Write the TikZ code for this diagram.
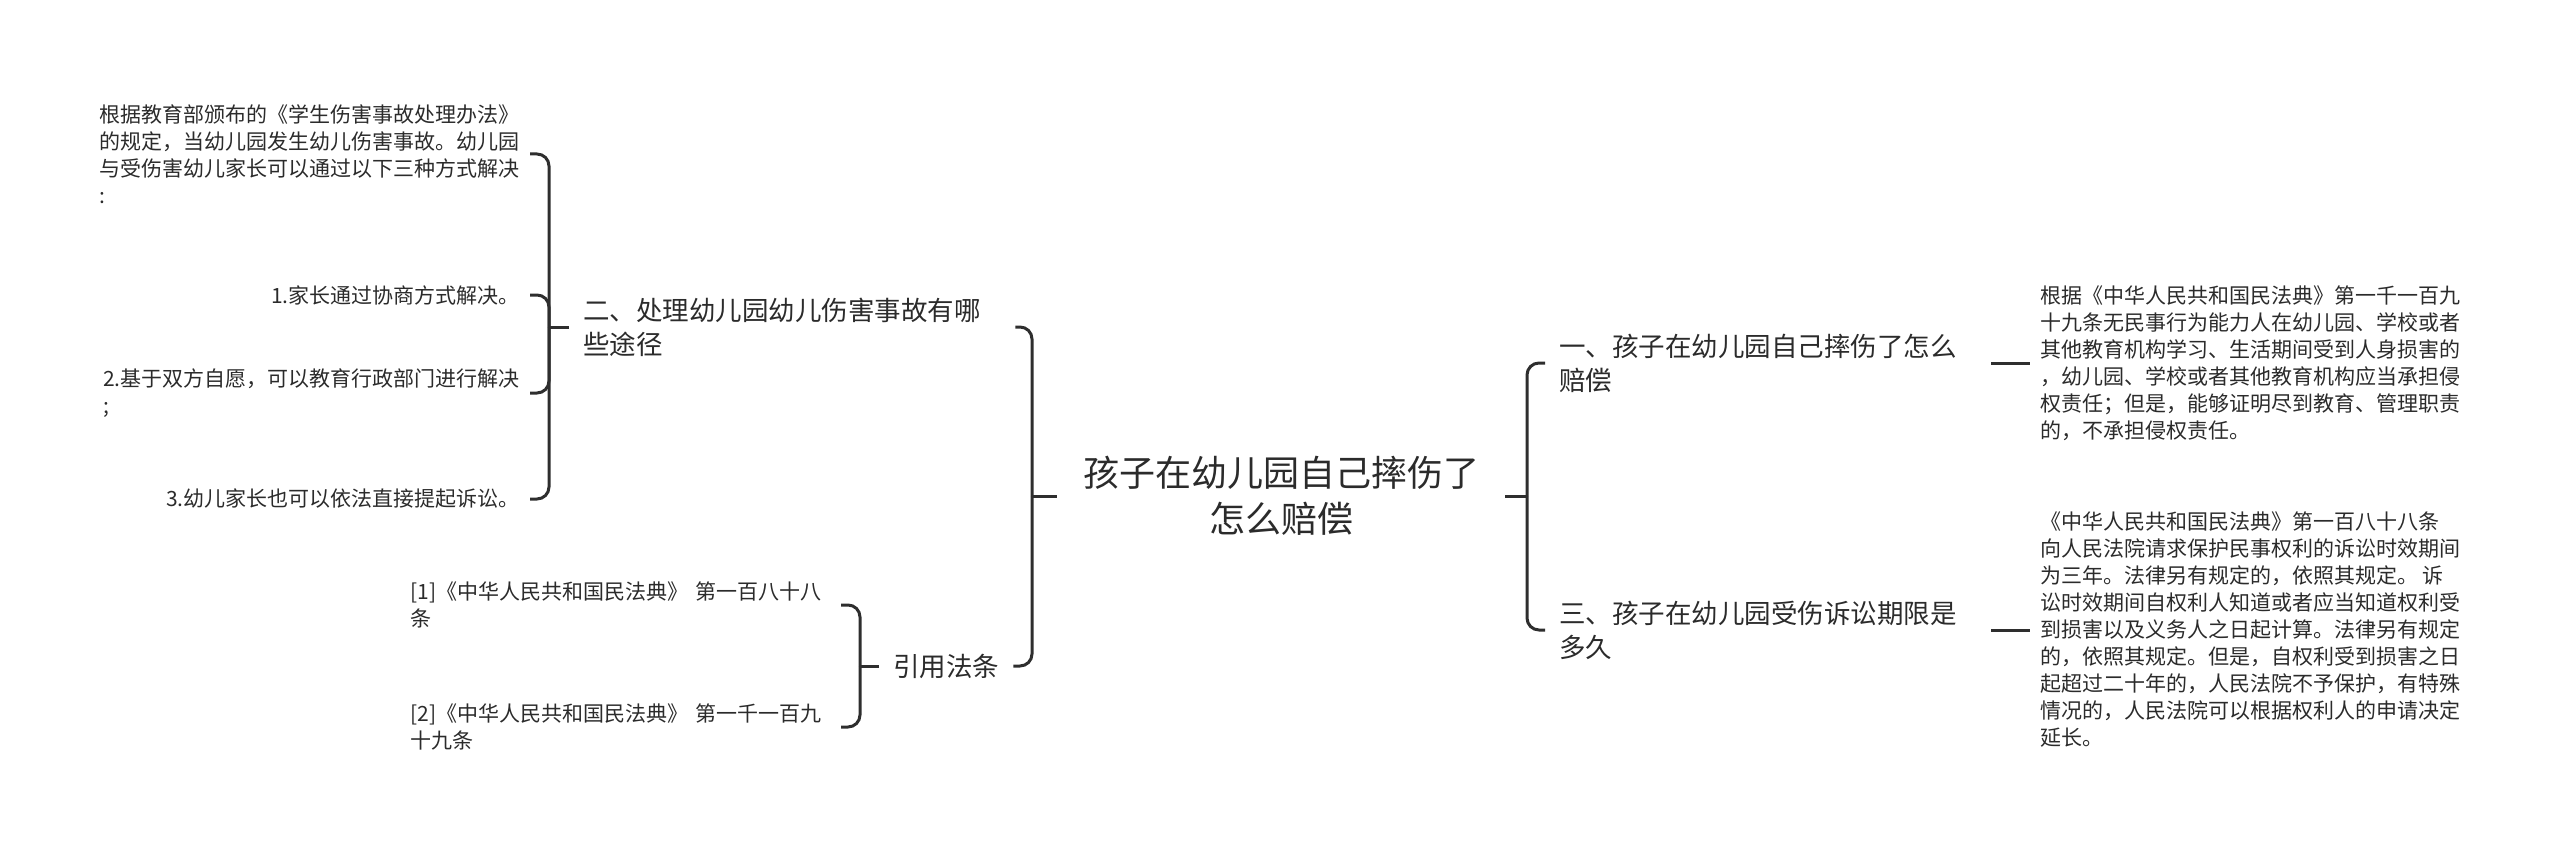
\documentclass[tikz,border=0pt]{standalone}
\usepackage{fontspec}
\setmainfont{Noto Sans CJK SC}
\definecolor{inkcol}{HTML}{2B2B2B}
\definecolor{linecol}{HTML}{2E2E2E}

\begin{document}
\begin{tikzpicture}[x=1pt,y=-1pt,line join=round,text=inkcol,
  link/.style={draw=linecol,line width=3pt,rounded corners=12pt},
  rootnode/.style={font=\fontsize{36}{46}\selectfont,align=center,inner xsep=26pt,inner ysep=4pt},
  topic/.style={font=\fontsize{26.5}{34}\selectfont,align=left,text width=418pt,inner xsep=14pt,inner ysep=4pt},
  shorttopic/.style={font=\fontsize{26.5}{34}\selectfont,inner xsep=14pt,inner ysep=4pt},
  leaf/.style={font=\fontsize{21}{27}\selectfont,align=left,inner xsep=10pt,inner ysep=3pt}]
\useasboundingbox (0,0) rectangle (2560,853);

% centre
\node[rootnode] (root) at (1281,496) {孩子在幼儿园自己摔伤了\\怎么赔偿};

% left half
\node[topic,anchor=west] (way) at (569,327) {二、处理幼儿园幼儿伤害事故有哪\\些途径};
\node[shorttopic,anchor=west] (cite) at (879,666) {引用法条};

\node[leaf,anchor=east] (wayA) at (530,154) {根据教育部颁布的《学生伤害事故处理办法》\\的规定，当幼儿园发生幼儿伤害事故。幼儿园\\与受伤害幼儿家长可以通过以下三种方式解决\\:};
\node[leaf,anchor=east] (wayB) at (530,295) {1.家长通过协商方式解决。};
\node[leaf,anchor=east] (wayC) at (530,393) {2.基于双方自愿，可以教育行政部门进行解决\\;};
\node[leaf,anchor=east] (wayD) at (530,499) {3.幼儿家长也可以依法直接提起诉讼。};

\node[leaf,anchor=east,text width=420pt] (citeA) at (841,605) {[1]《中华人民共和国民法典》 第一百八十八\\条};
\node[leaf,anchor=east,text width=420pt] (citeB) at (841,727) {[2]《中华人民共和国民法典》 第一千一百九\\十九条};

% right half
\node[topic,anchor=west] (fall) at (1545,363) {一、孩子在幼儿园自己摔伤了怎么\\赔偿};
\node[topic,anchor=west] (term) at (1545,630) {三、孩子在幼儿园受伤诉讼期限是\\多久};

\node[leaf,anchor=west] (fallA) at (2030,363) {根据《中华人民共和国民法典》第一千一百九\\十九条无民事行为能力人在幼儿园、学校或者\\其他教育机构学习、生活期间受到人身损害的\\，幼儿园、学校或者其他教育机构应当承担侵\\权责任；但是，能够证明尽到教育、管理职责\\的，不承担侵权责任。};
\node[leaf,anchor=west] (termA) at (2030,630) {《中华人民共和国民法典》第一百八十八条\\向人民法院请求保护民事权利的诉讼时效期间\\为三年。法律另有规定的，依照其规定。 诉\\讼时效期间自权利人知道或者应当知道权利受\\到损害以及义务人之日起计算。法律另有规定\\的，依照其规定。但是，自权利受到损害之日\\起超过二十年的，人民法院不予保护，有特殊\\情况的，人民法院可以根据权利人的申请决定\\延长。};

% bracket joints
\coordinate (jRootL) at (1032,496);
\coordinate (jRootR) at (1527,496);
\coordinate (jWay) at (549,327);
\coordinate (jCite) at (860,666);

\draw[link] (root.west) -- (jRootL);
\draw[link] (jRootL) |- (way.east);
\draw[link] (jRootL) |- (cite.east);
\draw[link] (root.east) -- (jRootR);
\draw[link] (jRootR) |- (fall.west);
\draw[link] (jRootR) |- (term.west);

\draw[link] (way.west) -- (jWay);
\foreach \kid in {wayA,wayB,wayC,wayD}
  \draw[link] (jWay) |- (\kid.east);
\draw[link] (cite.west) -- (jCite);
\foreach \kid in {citeA,citeB}
  \draw[link] (jCite) |- (\kid.east);

\draw[link] (fall.east) -- (fallA.west);
\draw[link] (term.east) -- (termA.west);
\end{tikzpicture}
\end{document}
